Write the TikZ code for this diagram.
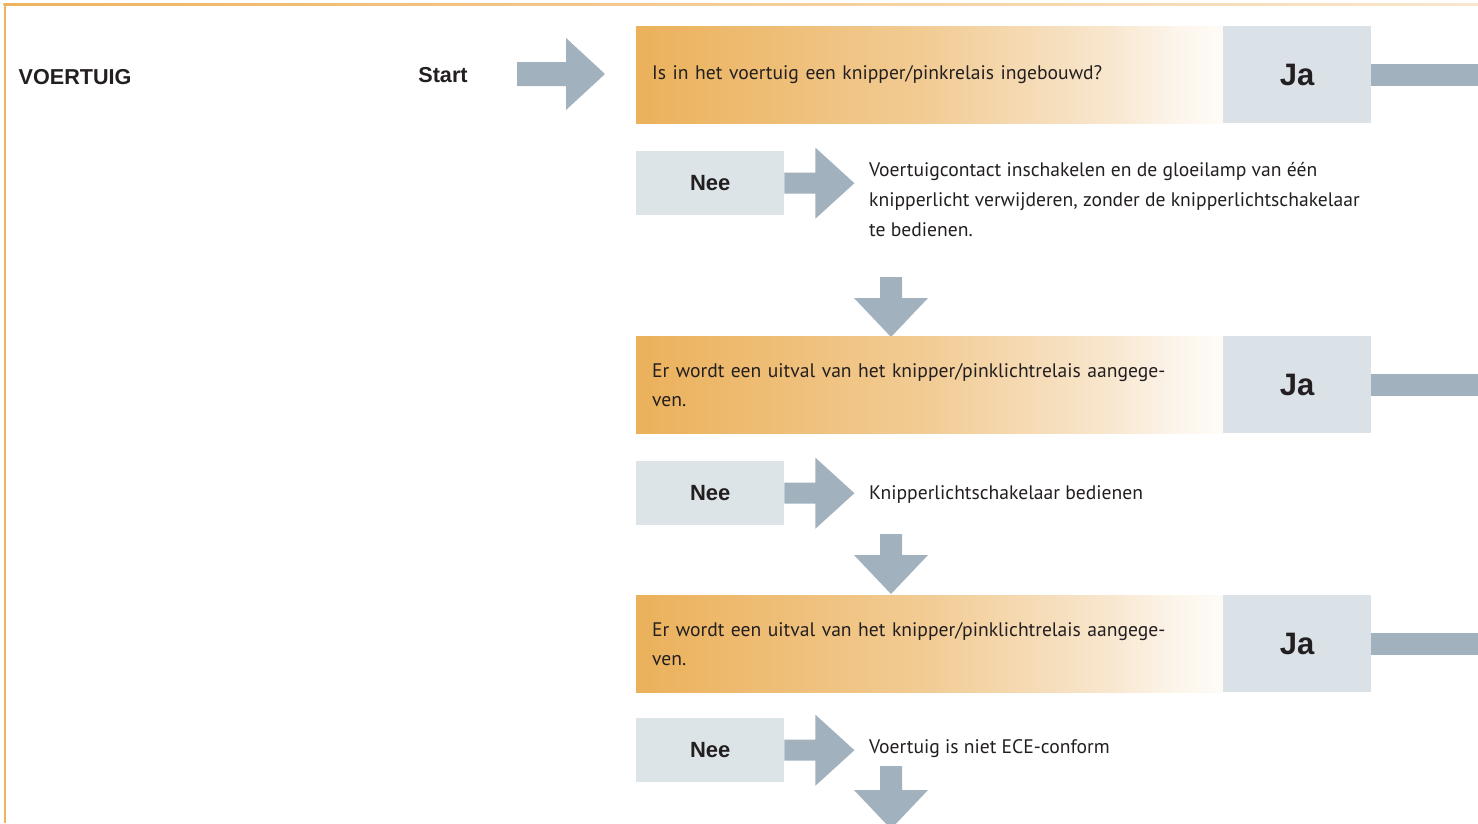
\documentclass[tikz,border=0pt]{standalone}
\usepackage{fontspec}
\setmainfont{PT Sans}
\newfontfamily\lblfont{Liberation Sans}
\usetikzlibrary{calc}
\definecolor{og1}{HTML}{EBB15B}
\definecolor{og2}{HTML}{F2CC95}
\definecolor{og3}{HTML}{F8E6CD}
\definecolor{og4}{HTML}{FCF5EB}
\definecolor{og5}{HTML}{FEFBF7}
\definecolor{bord}{HTML}{EEB35E}
\definecolor{bordlt}{HTML}{FAE6CE}
\definecolor{jafill}{HTML}{DAE1E7}
\definecolor{neefill}{HTML}{DDE4E8}
\definecolor{arrowc}{HTML}{A2B1BE}
\definecolor{ink}{HTML}{231F20}
\pgfdeclarehorizontalshading{qgrad}{100bp}{color(0bp)=(og1); color(25bp)=(og1); color(50bp)=(og2); color(65bp)=(og3); color(71bp)=(og4); color(75bp)=(og5); color(100bp)=(og5)}
\begin{document}
\begin{tikzpicture}[x=1pt,y=-1pt,
  every node/.style={text=ink},
  qbox/.style={shading=qgrad, anchor=north west, minimum height=97, text width=555, inner xsep=16, inner ysep=0, align=left, font=\fontsize{19.6}{29}\selectfont},
  jabox/.style={fill=jafill, anchor=north west, minimum width=148, minimum height=97, inner sep=0, font=\lblfont\fontsize{31}{31}\selectfont\bfseries},
  neebox/.style={fill=neefill, anchor=north west, minimum width=148, minimum height=64, inner sep=0, font=\lblfont\fontsize{22}{22}\selectfont\bfseries},
  lbl/.style={inner sep=0, font=\lblfont\fontsize{21.6}{22}\selectfont\bfseries},
  body/.style={anchor=west, align=left, inner sep=0, font=\fontsize{19.6}{30}\selectfont},
  jabar/.style={draw=arrowc, line width=22},
  pics/rarrow/.style n args={4}{code={\fill[arrowc] (0,-#2) -- (#1,-#2) -- (#1,-#4) -- ({#1+#3},0) -- (#1,#4) -- (#1,#2) -- (0,#2) -- cycle;}},
  pics/darrow/.style n args={4}{code={\fill[arrowc] (-#2,0) -- (-#2,#1) -- (-#4,#1) -- (0,{#1+#3}) -- (#4,#1) -- (#2,#1) -- (#2,0) -- cycle;}}
]
\useasboundingbox (0,0) rectangle (1478,823);
\clip (0,0) rectangle (1478,823);
\fill[white] (0,0) rectangle (1478,823);
% frame
\shade[left color=bord, right color=bordlt] (3.5,3) rectangle (1478,5.5);
\fill[bord] (3.5,3) rectangle (6,823);
% left labels
\node[lbl, anchor=west] (veh) at (18.5,77) {VOERTUIG};
\node[lbl] (start) at (443,75) {Start};
% row 1
\node[qbox] (q1) at (636,26) {Is in het voertuig een knipper/pinkrelais ingebouwd?};
\node[jabox] (ja1) at (1223,26) {Ja};
\pic at (517,74) {rarrow={49}{12}{39}{36}};
\draw[jabar] (ja1.east) -- ++(120,0);
\node[neebox] (nee1) at (636,151) {Nee};
\pic at (nee1.east) {rarrow={31}{10.5}{39}{35.5}};
\node[body] (t1) at (869,200) {Voertuigcontact inschakelen en de gloeilamp van één\\knipperlicht verwijderen, zonder de knipperlichtschakelaar\\te bedienen.};
\pic at (891,277) {darrow={21}{11}{39}{37}};
% row 2
\node[qbox] (q2) at (636,336) {Er wordt een uitval van het knipper/pinklichtrelais aangege-\\ven.};
\node[jabox] (ja2) at (1223,336) {Ja};
\draw[jabar] (ja2.east) -- ++(120,0);
\node[neebox] (nee2) at (636,461) {Nee};
\pic at (nee2.east) {rarrow={31}{10.5}{39}{35.5}};
\node[body] (t2) at (869,495) {Knipperlichtschakelaar bedienen};
\pic at (891,534) {darrow={21}{11}{39}{37}};
% row 3
\node[qbox] (q3) at (636,595) {Er wordt een uitval van het knipper/pinklichtrelais aangege-\\ven.};
\node[jabox] (ja3) at (1223,595) {Ja};
\draw[jabar] (ja3.east) -- ++(120,0);
\node[neebox] (nee3) at (636,718) {Nee};
\pic at (nee3.east) {rarrow={31}{10.5}{39}{35.5}};
\node[body] (t3) at (869,749) {Voertuig is niet ECE-conform};
\pic at (891,766) {darrow={24}{11}{39}{37}};
\end{tikzpicture}
\end{document}
